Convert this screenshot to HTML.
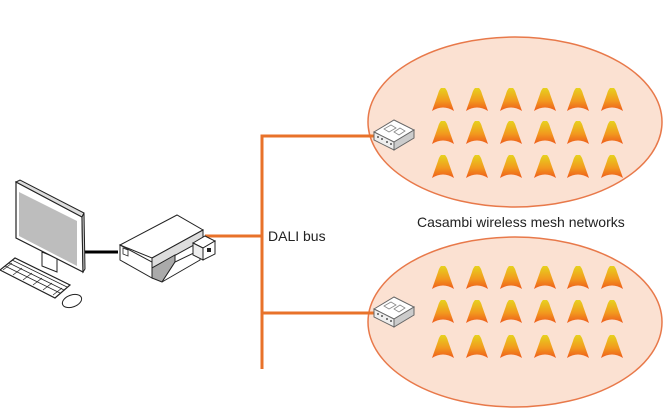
<!DOCTYPE html>
<html><head><meta charset="utf-8"><style>
html,body{margin:0;padding:0;background:#fff;}
svg{display:block;}
text{font-family:"Liberation Sans",Arial,sans-serif;}
</style></head><body>
<svg width="666" height="412" viewBox="0 0 666 412" xmlns="http://www.w3.org/2000/svg">
<defs>
<linearGradient id="lg" x1="0" y1="0" x2="0" y2="1">
<stop offset="0" stop-color="#e6d21e"/>
<stop offset="0.55" stop-color="#f29a1e"/>
<stop offset="1" stop-color="#ee5a1c"/>
</linearGradient>
<path id="L" d="M-2,-1 L2,-1 Q4,1 5,5 L11,22 Q0,15 -11,22 L-5,5 Q-4,1 -2,-1 Z" fill="url(#lg)"/>
<g id="row">
<use href="#L" x="443"/><use href="#L" x="477"/><use href="#L" x="511"/><use href="#L" x="545"/><use href="#L" x="578"/><use href="#L" x="612"/>
</g>
<g id="ctl">
<polygon points="0,12 20,0 40,10 20,22" fill="#fff" stroke="#666" stroke-width="1"/>
<polygon points="0,12 20,22 20,30 0,20" fill="#eee" stroke="#666" stroke-width="1"/>
<polygon points="20,22 40,10 40,18 20,30" fill="#ccc" stroke="#666" stroke-width="1"/>
<polygon points="10,9 17,5 22,8 15,12" fill="none" stroke="#888" stroke-width="0.8"/>
<polygon points="20,12 26,8 31,11 25,15" fill="none" stroke="#888" stroke-width="0.8"/>
<circle cx="4" cy="17" r="1" fill="#555"/><circle cx="8" cy="19" r="1" fill="#555"/><circle cx="13" cy="22" r="1" fill="#555"/><circle cx="17" cy="24" r="1" fill="#555"/>
</g>
</defs>
<ellipse cx="515" cy="122" rx="147" ry="85" fill="#fbe1d2" stroke="#e8794a" stroke-width="1.5"/>
<ellipse cx="515" cy="322" rx="147" ry="85" fill="#fbe1d2" stroke="#e8794a" stroke-width="1.5"/>
<use href="#row" y="89"/><use href="#row" y="122"/><use href="#row" y="156"/>
<use href="#row" y="267"/><use href="#row" y="301"/><use href="#row" y="336"/>
<g stroke="#e8722a" stroke-width="3" fill="none">
<polyline points="376,136 262,136 262,369"/>
<line x1="262" y1="313" x2="376" y2="313"/>
<line x1="205" y1="236" x2="262" y2="236"/>
</g>
<use href="#ctl" x="374" y="120"/>
<use href="#ctl" x="374" y="297"/>
<text x="268" y="241" font-size="14" fill="#222">DALI bus</text>
<text x="417" y="227" font-size="14" fill="#222">Casambi wireless mesh networks</text>
<line x1="78" y1="252" x2="118" y2="252" stroke="#000" stroke-width="3"/>
<polygon points="42,252 57,258 57,272 42,266" fill="#fff" stroke="#222" stroke-width="1"/>
<polygon points="16,182 82,217 83,272 16,238" fill="#fff" stroke="#222" stroke-width="1.2"/>
<polygon points="16,182 20,180 84,213 82,217" fill="#ddd" stroke="#222" stroke-width="1"/>
<polygon points="82,217 84,213 85,269 83,272" fill="#ccc" stroke="#222" stroke-width="1"/>
<polygon points="19,192 77,221 77,266 19,236" fill="#bdbdbd"/>
<polygon points="0,270 15,258 70,285 55,298" fill="#fff" stroke="#222" stroke-width="1.2"/>
<g stroke="#222" stroke-width="0.7">
<line x1="5" y1="266" x2="60" y2="293"/><line x1="9" y1="263" x2="64" y2="290"/><line x1="12" y1="260" x2="67" y2="287"/>
<line x1="12" y1="263" x2="3" y2="270"/><line x1="22" y1="268" x2="13" y2="275"/><line x1="32" y1="273" x2="23" y2="280"/><line x1="42" y1="278" x2="33" y2="285"/><line x1="52" y1="283" x2="43" y2="290"/><line x1="62" y1="288" x2="53" y2="295"/>
</g>
<ellipse cx="72" cy="301" rx="10" ry="6" transform="rotate(-20 72 301)" fill="#fff" stroke="#222" stroke-width="1"/>
<polygon points="120,245 177,215 203,230 152,258" fill="#fff" stroke="#222" stroke-width="1"/>
<polygon points="120,245 152,262 152,278 120,260" fill="#fff" stroke="#222" stroke-width="1"/>
<polygon points="123,248 128,250 128,256 123,254" fill="none" stroke="#222" stroke-width="0.8"/>
<polygon points="152,258 203,230 203,240 152,268" fill="#ddd" stroke="#222" stroke-width="1"/>
<polygon points="152,268 175,255 175,262 162,282 152,278" fill="#aaa" stroke="#222" stroke-width="1"/>
<polygon points="162,282 200,260 200,250 175,262" fill="#fff" stroke="#222" stroke-width="1"/>
<polygon points="193,243 205,236 215,241 203,248" fill="#fff" stroke="#222" stroke-width="1"/>
<polygon points="203,248 215,241 215,254 203,260" fill="#fff" stroke="#222" stroke-width="1"/>
<polygon points="193,243 203,248 203,260 193,255" fill="#eee" stroke="#222" stroke-width="1"/>
<rect x="207" y="248" width="4" height="4" fill="#222"/>
</svg>
</body></html>
